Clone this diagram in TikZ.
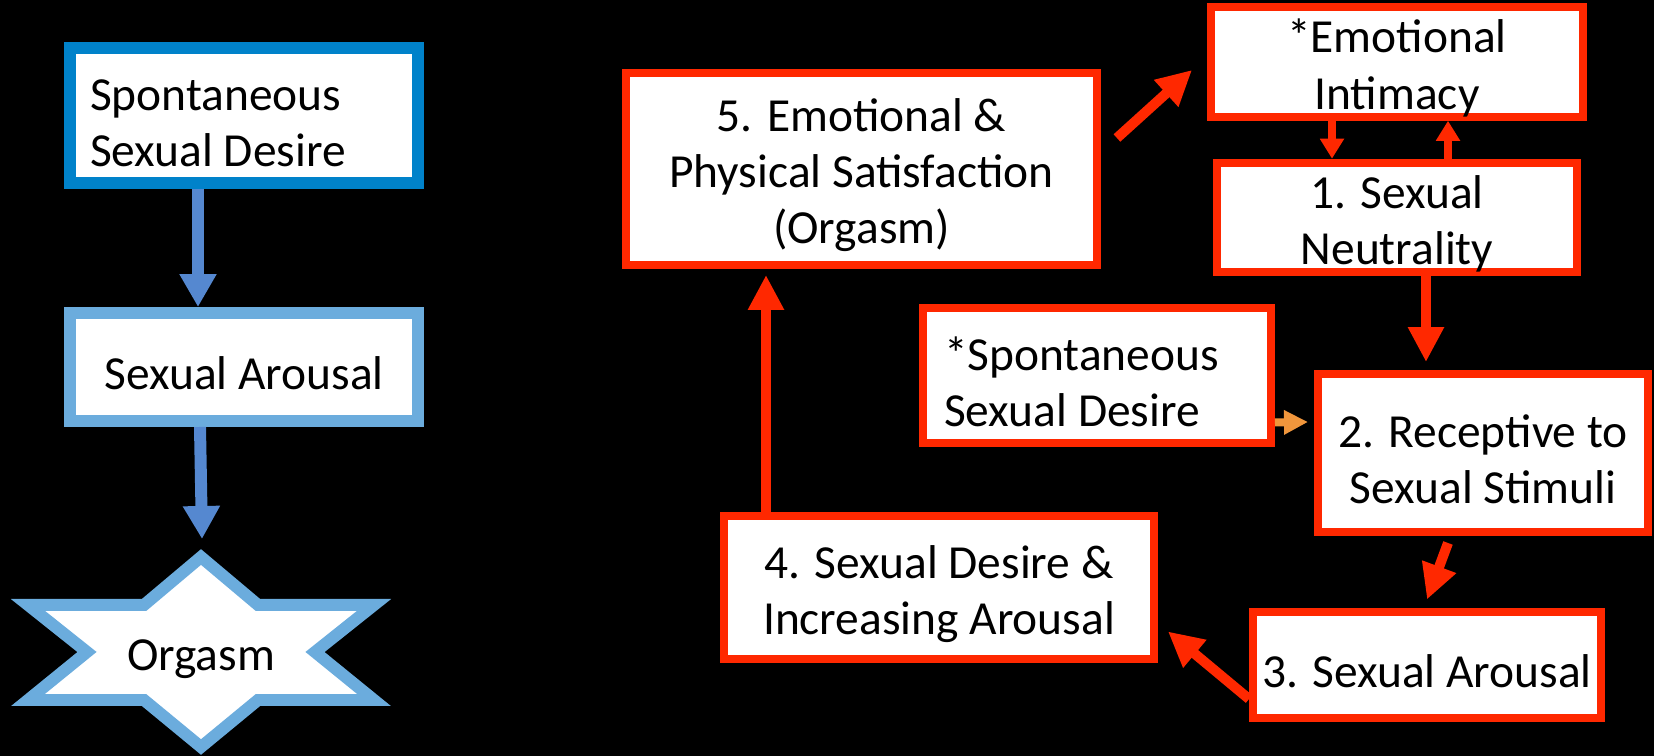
\documentclass[tikz,border=0pt]{standalone}
\usepackage{fontspec}
\setmainfont{Carlito}
\usetikzlibrary{arrows.meta}

\definecolor{deepblue}{RGB}{0,130,202}
\definecolor{paleblue}{RGB}{107,172,221}
\definecolor{arrowblue}{RGB}{85,136,208}
\definecolor{hotred}{RGB}{255,40,0}
\definecolor{softorange}{RGB}{240,150,60}

\begin{document}
\begin{tikzpicture}
        [x=0.02cm, y=-0.02cm, every node/.style={font=\fontsize{27}{32}\selectfont, fill=white, inner sep=0, execute at begin node={\rule{0pt}{26pt}}},
        bluebox/.style={draw=deepblue, line width=0.24cm},
        palebox/.style={draw=paleblue, line width=0.24cm, align=flush center, minimum width=6.96cm},
        redbox/.style={draw=hotred, line width=0.16cm, align=flush center},
        bluearrow/.style={draw=arrowblue, line width=0.24cm, -{Triangle[width=0.7cm, length=0.66cm]}},
        redarrow/.style={draw=hotred, line width=0.2cm, -{Triangle[width=0.68cm, length=0.7cm]}},
        thinarrow/.style={draw=hotred, line width=0.16cm, -{Triangle[width=0.46cm, length=0.4cm]}},
        orangearrow/.style={draw=softorange, line width=0.16cm, -{Triangle[width=0.46cm, length=0.48cm]}}]

        \fill[black] (0, 0) rectangle (1654, 756);
        \useasboundingbox (0, 0) rectangle (1654, 756);

        % linear model
        \node[bluebox, text width=6.16cm, inner xsep=0.4cm, minimum height=2.7cm, align=flush left] (spd) at (244, 115.5) {Spontaneous\\Sexual Desire};
        \node[palebox, minimum height=2.16cm] (sa) at (244, 367) {Sexual Arousal};
        \draw[draw=paleblue, fill=white, line width=0.24cm]
          (201, 557) -- (258, 605) -- (374, 605) -- (315, 652) -- (374, 700) -- (258, 700)
          -- (201, 747) -- (144, 700) -- (28, 700) -- (87, 652) -- (28, 605) -- (144, 605) -- cycle;
        \node (org) at (201, 652) {Orgasm};
        \coordinate (startop) at (202, 539);

        \draw[bluearrow] ([shift={(-46, 0)}]spd.south) -- ([shift={(-46, 0)}]sa.north);
        \draw[bluearrow] ([shift={(-44, 0)}]sa.south) -- (startop);

        % circular model
        \node[redbox, text width=7.44cm, minimum height=2.16cm] (emo) at (1397, 62) {*Emotional\\Intimacy};
        \node[redbox, text width=7.2cm, minimum height=2.1cm] (neut) at (1397, 217.5) {1. Sexual\\Neutrality};
        \node[redbox, text width=6.12cm, inner xsep=0.42cm, minimum height=2.7cm, align=flush left] (spsd) at (1097, 375.5) {*Spontaneous\\Sexual Desire};
        \node[redbox, text width=6.6cm, minimum height=3.16cm] (rec) at (1483, 453) {2. Receptive to\\Sexual Stimuli};
        \node[redbox, minimum width=6.96cm, minimum height=2.14cm] (sarr) at (1427, 665) {3. Sexual Arousal};
        \node[redbox, text width=8.6cm, minimum height=2.86cm] (desire) at (939, 587.5) {4. Sexual Desire \&\\Increasing Arousal};
        \node[redbox, text width=9.42cm, minimum height=3.84cm] (satis) at (861.5, 169) {5. Emotional \&\\Physical Satisfaction\\(Orgasm)};

        \draw[thinarrow] ([shift={(-65, 0)}]emo.south) -- ([shift={(-65, 0)}]neut.north);
        \draw[thinarrow] ([shift={(51, 0)}]neut.north) -- ([shift={(51, 0)}]emo.south);
        \draw[redarrow] ([shift={(29, 0)}]neut.south) -- ([shift={(-57, -8)}]rec.north);
        \draw[orangearrow] ([shift={(0, 47)}]spsd.east) -- ([shift={(-6, -31)}]rec.west);
        \draw[redarrow] ([shift={(-35, 7)}]rec.south) -- ([shift={(0, -8)}]sarr.north);
        \draw[redarrow] ([shift={(0, 34)}]sarr.west) -- ([shift={(10, 44)}]desire.east);
        \draw[redarrow] ([shift={(-173, 0)}]desire.north) -- ([shift={(-95.5, 6)}]satis.south);
        \draw[redarrow] ([shift={(16, -31)}]satis.east) -- ([shift={(-15, 8)}]emo.west);
      \end{tikzpicture}
\end{document}
